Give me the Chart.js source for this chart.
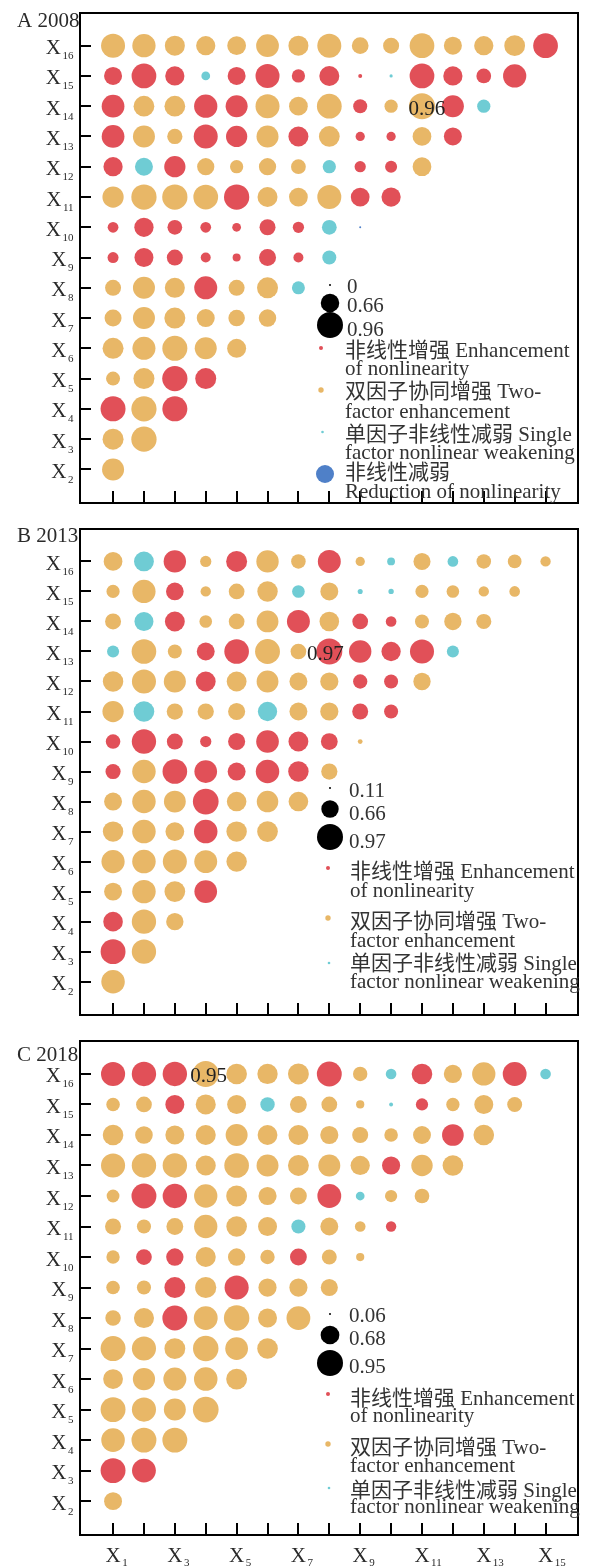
<!DOCTYPE html>
<html>
<head>
<meta charset="utf-8">
<title>Factor interaction bubble matrix</title>
<script src="https://cdn.jsdelivr.net/npm/chart.js@4.4.1/dist/chart.umd.min.js"></script>
<style>
  html, body { margin: 0; padding: 0; background: #fff; }
  .panel { position: absolute; left: 0; }
</style>
</head>
<body>
<canvas id="chart2008" class="panel" width="591" height="516" style="top:0px"></canvas>
<canvas id="chart2013" class="panel" width="591" height="512" style="top:516px"></canvas>
<canvas id="chart2018" class="panel" width="591" height="538" style="top:1028px"></canvas>
<script>
// =======================================
// DATA
// =======================================

// rows are X16 (top) down to X2, each row pairs with X1 .. X(row-1)
const rowFactors = [16, 15, 14, 13, 12, 11, 10, 9, 8, 7, 6, 5, 4, 3, 2];
const colFactors = [1, 2, 3, 4, 5, 6, 7, 8, 9, 10, 11, 12, 13, 14, 15];
const xLabelFactors = [1, 3, 5, 7, 9, 11, 13, 15];

// interaction types: r = nonlinear enhancement, o = two-factor enhancement,
// c = single factor nonlinear weakening, b = nonlinear weakening
const values2008 = [
  [0.88, 0.85, 0.72, 0.69, 0.67, 0.83, 0.72, 0.88, 0.59, 0.56, 0.91, 0.64, 0.69, 0.75, 0.91],
  [0.64, 0.91, 0.69, 0.27, 0.64, 0.88, 0.45, 0.72, 0.08, 0.05, 0.91, 0.69, 0.51, 0.85],
  [0.83, 0.75, 0.75, 0.85, 0.80, 0.88, 0.67, 0.91, 0.48, 0.45, 0.96, 0.80, 0.45],
  [0.83, 0.80, 0.53, 0.88, 0.77, 0.80, 0.72, 0.75, 0.29, 0.29, 0.67, 0.64],
  [0.69, 0.64, 0.77, 0.61, 0.45, 0.61, 0.51, 0.45, 0.37, 0.40, 0.67],
  [0.77, 0.93, 0.93, 0.91, 0.93, 0.72, 0.67, 0.88, 0.67, 0.69],
  [0.35, 0.69, 0.51, 0.35, 0.27, 0.56, 0.37, 0.51, 0.00],
  [0.36, 0.68, 0.56, 0.32, 0.24, 0.60, 0.32, 0.48],
  [0.56, 0.80, 0.72, 0.84, 0.56, 0.76, 0.44],
  [0.60, 0.80, 0.76, 0.64, 0.58, 0.62],
  [0.76, 0.84, 0.92, 0.80, 0.68],
  [0.48, 0.76, 0.93, 0.76],
  [0.92, 0.93, 0.92],
  [0.76, 0.93],
  [0.80]
];
const types2008 = [
  'o o o o o o o o o o o o o o r',
  'r r r c r r r r r c r r r r',
  'r o o r r o o o r o o r c',
  'r o o r r o r o r r o r',
  'r c r o o o o c r r o',
  'o o o o r o o o r r',
  'r r r r r r r c b',
  'r r r r r r r c',
  'o o o r o o c',
  'o o o o o o',
  'o o o o o',
  'o o r r',
  'r o r',
  'o o',
  'o'
];
const sizeKeys2008 = [0, 0.66, 0.96];

const values2013 = [
  [0.71, 0.75, 0.84, 0.44, 0.79, 0.84, 0.56, 0.86, 0.37, 0.32, 0.65, 0.42, 0.56, 0.53, 0.41],
  [0.51, 0.87, 0.67, 0.41, 0.60, 0.77, 0.49, 0.68, 0.22, 0.23, 0.51, 0.49, 0.41, 0.42],
  [0.61, 0.72, 0.75, 0.49, 0.60, 0.82, 0.86, 0.74, 0.60, 0.42, 0.54, 0.66, 0.58],
  [0.47, 0.92, 0.54, 0.68, 0.92, 0.93, 0.60, 0.97, 0.84, 0.73, 0.90, 0.47],
  [0.77, 0.90, 0.83, 0.75, 0.75, 0.82, 0.68, 0.69, 0.55, 0.54, 0.66],
  [0.80, 0.78, 0.62, 0.62, 0.65, 0.73, 0.68, 0.69, 0.61, 0.54],
  [0.56, 0.91, 0.61, 0.44, 0.65, 0.85, 0.75, 0.64, 0.21],
  [0.58, 0.88, 0.92, 0.85, 0.68, 0.88, 0.77, 0.62],
  [0.68, 0.88, 0.82, 0.96, 0.74, 0.81, 0.74],
  [0.77, 0.88, 0.71, 0.88, 0.77, 0.78],
  [0.87, 0.88, 0.90, 0.86, 0.77],
  [0.68, 0.88, 0.78, 0.85],
  [0.74, 0.91, 0.66],
  [0.93, 0.91],
  [0.88]
];
const types2013 = [
  'o c r o r o o r o c o c o o o',
  'o o r o o o c o c c o o o o',
  'o c r o o o r o r r o o o',
  'c o o r r o o r r r r c',
  'o o o r o o o o r r o',
  'o c o o o c o o r r',
  'r r r r r r r r o',
  'r o r r r r r o',
  'o o o r o o o',
  'o o o r o o',
  'o o o o o',
  'o o o r',
  'r o o',
  'r o',
  'o'
];
const sizeKeys2013 = [0.11, 0.66, 0.97];

const values2018 = [
  [0.88, 0.89, 0.89, 0.95, 0.75, 0.74, 0.76, 0.91, 0.52, 0.38, 0.75, 0.66, 0.85, 0.87, 0.38],
  [0.49, 0.57, 0.69, 0.73, 0.69, 0.52, 0.61, 0.57, 0.29, 0.13, 0.44, 0.48, 0.69, 0.54],
  [0.75, 0.64, 0.69, 0.73, 0.80, 0.72, 0.73, 0.66, 0.58, 0.49, 0.65, 0.79, 0.75],
  [0.88, 0.89, 0.89, 0.73, 0.90, 0.80, 0.76, 0.80, 0.70, 0.66, 0.78, 0.75],
  [0.46, 0.91, 0.89, 0.85, 0.76, 0.66, 0.61, 0.87, 0.31, 0.44, 0.53],
  [0.58, 0.51, 0.61, 0.85, 0.75, 0.69, 0.51, 0.65, 0.38, 0.37],
  [0.48, 0.57, 0.63, 0.73, 0.63, 0.52, 0.61, 0.54, 0.29],
  [0.49, 0.51, 0.76, 0.77, 0.88, 0.66, 0.66, 0.62],
  [0.56, 0.73, 0.91, 0.87, 0.93, 0.69, 0.87],
  [0.91, 0.88, 0.76, 0.93, 0.83, 0.75],
  [0.72, 0.81, 0.84, 0.86, 0.76],
  [0.91, 0.88, 0.80, 0.94],
  [0.86, 0.91, 0.91],
  [0.91, 0.87],
  [0.65]
];
const types2018 = [
  'r r r o o o o r o c r o o r c',
  'o o r o o c o o o c r o o o',
  'o o o o o o o o o o o r o',
  'o o o o o o o o o r o o',
  'o r r o o o o r c o o',
  'o o o o o o c o o r',
  'o r r o o o r o o',
  'o o r o r o o o',
  'o o r o o o o',
  'o o o o o o',
  'o o o o o',
  'o o o o',
  'o o o',
  'r r',
  'o'
];
const sizeKeys2018 = [0.06, 0.68, 0.95];

const legendLines = {
  r: ['非线性增强 Enhancement', 'of nonlinearity'],
  o: ['双因子协同增强 Two-', 'factor enhancement'],
  c: ['单因子非线性减弱 Single', 'factor nonlinear weakening'],
  b: ['非线性减弱', 'Reduction of nonlinearity']
};

// =======================================
// STYLE
// =======================================

const COLORS = { r: '#E15058', o: '#E8B767', c: '#6FCCD4', b: '#4F80C8' };
const LEGEND_DOT = { r: 2, o: 2.7, c: 1.3, b: 9 };
const MIN_D = 2;
const MAX_D = 26;
const SERIF = '"Liberation Serif", "Noto Sans CJK SC", serif';

function bubbleRadius(v, keys) {
  const lo = keys[0];
  const hi = keys[keys.length - 1];
  return (MIN_D + (MAX_D - MIN_D) * (v - lo) / (hi - lo)) / 2;
}

function buildDatasets(values, types, keys) {
  const groups = {};
  values.forEach((row, i) => {
    const t = types[i].split(' ');
    row.forEach((v, j) => {
      const k = t[j];
      if (!groups[k]) groups[k] = [];
      groups[k].push({ x: colFactors[j], y: rowFactors[i], r: bubbleRadius(v, keys) });
    });
  });
  return Object.keys(groups).map((k) => ({
    label: k,
    data: groups[k],
    backgroundColor: COLORS[k],
    borderWidth: 0,
    hoverRadius: 0,
  }));
}

function findMax(values) {
  let best = { v: -1, x: 0, y: 0 };
  values.forEach((row, i) => row.forEach((v, j) => {
    if (v > best.v) best = { v, x: colFactors[j], y: rowFactors[i] };
  }));
  return best;
}

// "X" with a subscript number
function drawFactorLabel(ctx, num, px, baseline, alignRight, subDrop) {
  ctx.font = '21px ' + SERIF;
  const wX = ctx.measureText('X').width;
  ctx.font = '11px ' + SERIF;
  const wS = ctx.measureText(String(num)).width;
  const left = alignRight ? px - (wX + 1.5 + wS) : px - wX / 2;
  ctx.textAlign = 'left';
  ctx.font = '21px ' + SERIF;
  ctx.fillText('X', left, baseline);
  ctx.font = '11px ' + SERIF;
  ctx.fillText(String(num), left + wX + 1.5, baseline + subDrop);
}

function dot(ctx, x, y, r, color) {
  ctx.beginPath();
  ctx.arc(x, y, r, 0, Math.PI * 2);
  ctx.fillStyle = color;
  ctx.fill();
}

// frame, inward ticks, factor labels, title, max label, legend
function panelPlugin(panel) {
  return {
    id: 'panelDecor',
    afterDatasetsDraw(chart) {
      const { ctx, chartArea: a } = chart;
      const xs = chart.scales.x;
      const ys = chart.scales.y;
      ctx.save();

      ctx.strokeStyle = '#000';
      ctx.lineWidth = 2;
      ctx.strokeRect(a.left, a.top, a.right - a.left, a.bottom - a.top);
      ctx.beginPath();
      rowFactors.forEach((f) => {
        const py = Math.round(ys.getPixelForValue(f));
        ctx.moveTo(a.left, py);
        ctx.lineTo(a.left + 11, py);
      });
      colFactors.forEach((f) => {
        const px = Math.round(xs.getPixelForValue(f));
        ctx.moveTo(px, a.bottom);
        ctx.lineTo(px, a.bottom - 12);
      });
      ctx.stroke();

      ctx.fillStyle = '#2a2a2a';
      ctx.textBaseline = 'alphabetic';
      rowFactors.forEach((f) => {
        drawFactorLabel(ctx, f, 73.5, ys.getPixelForValue(f) + 8.5, true, 5);
      });
      if (panel.showXLabels) {
        xLabelFactors.forEach((f) => {
          drawFactorLabel(ctx, f, xs.getPixelForValue(f), a.bottom + 26.5, false, 4);
        });
      }

      ctx.font = '21px ' + SERIF;
      ctx.textAlign = 'left';
      ctx.fillText(panel.title, 17, panel.titleY);

      const m = findMax(panel.values);
      ctx.font = '21px ' + SERIF;
      ctx.textAlign = 'center';
      ctx.fillStyle = '#222';
      ctx.fillText(m.v.toFixed(2), xs.getPixelForValue(m.x) + panel.maxDx, ys.getPixelForValue(m.y) + 8.5);

      // legend
      const lg = panel.legend;
      ctx.textAlign = 'left';
      panel.sizeKeys.forEach((v, i) => {
        dot(ctx, lg.sizeX, lg.sizeY[i], bubbleRadius(v, panel.sizeKeys), '#000');
        ctx.fillStyle = '#333';
        ctx.font = '21px ' + SERIF;
        ctx.fillText(String(v), lg.sizeTextX, lg.sizeBase[i]);
      });
      panel.legendTypes.forEach((k, i) => {
        dot(ctx, lg.dotX[i], lg.dotY[i], LEGEND_DOT[k], COLORS[k]);
        ctx.fillStyle = '#333';
        ctx.font = '21px ' + SERIF;
        legendLines[k].forEach((line, j) => {
          ctx.fillText(line, lg.textX, lg.lineBase[i][j]);
        });
      });

      ctx.restore();
    }
  };
}

// =======================================
// PANELS
// =======================================

const panels = [
  {
    id: 'chart2008', title: 'A 2008', titleY: 27, values: values2008, types: types2008,
    sizeKeys: sizeKeys2008, legendTypes: ['r', 'o', 'c', 'b'], showXLabels: false,
    padding: { left: 80, right: 9, top: 10, bottom: 4 }, maxDx: 5,
    legend: {
      sizeX: 330, sizeY: [285, 303, 325], sizeTextX: 347, sizeBase: [293.3, 312.3, 335.7],
      dotX: [321, 321, 322.5, 325], dotY: [348, 390, 432, 474], textX: 345,
      lineBase: [[356.7, 375], [398.3, 417.7], [440.7, 459.3], [478.5, 497.7]]
    }
  },
  {
    id: 'chart2013', title: 'B 2013', titleY: 26, values: values2013, types: types2013,
    sizeKeys: sizeKeys2013, legendTypes: ['r', 'o', 'c'], showXLabels: false,
    padding: { left: 80, right: 9, top: 4, bottom: 5 }, maxDx: -4,
    legend: {
      sizeX: 330, sizeY: [272, 293, 321], sizeTextX: 349, sizeBase: [280.7, 304, 331.7],
      dotX: [328, 328, 329], dotY: [352, 402, 447], textX: 350,
      lineBase: [[362.3, 380.7], [412.3, 430.7], [454, 472.3]]
    }
  },
  {
    id: 'chart2018', title: 'C 2018', titleY: 32.7, values: values2018, types: types2018,
    sizeKeys: sizeKeys2018, legendTypes: ['r', 'o', 'c'], showXLabels: true,
    padding: { left: 80, right: 9, top: 5, bottom: 31 }, maxDx: 3,
    legend: {
      sizeX: 330, sizeY: [286, 307, 335], sizeTextX: 349, sizeBase: [293.7, 317, 345.3],
      dotX: [328, 328, 329], dotY: [366, 416, 460], textX: 350,
      lineBase: [[377, 393.7], [426, 443.7], [468.7, 485.3]]
    }
  }
];

panels.forEach((p) => {
  new Chart(document.getElementById(p.id), {
    type: 'bubble',
    data: { datasets: buildDatasets(p.values, p.types, p.sizeKeys) },
    options: {
      responsive: false,
      animation: false,
      devicePixelRatio: 1,
      events: [],
      layout: { padding: p.padding },
      scales: {
        x: { type: 'linear', display: false, min: -0.07, max: 16.05 },
        y: { type: 'linear', display: false, min: 0.89, max: 17.08 },
      },
      plugins: {
        legend: { display: false },
        tooltip: { enabled: false },
      },
    },
    plugins: [panelPlugin(p)],
  });
});
</script>
</body>
</html>
